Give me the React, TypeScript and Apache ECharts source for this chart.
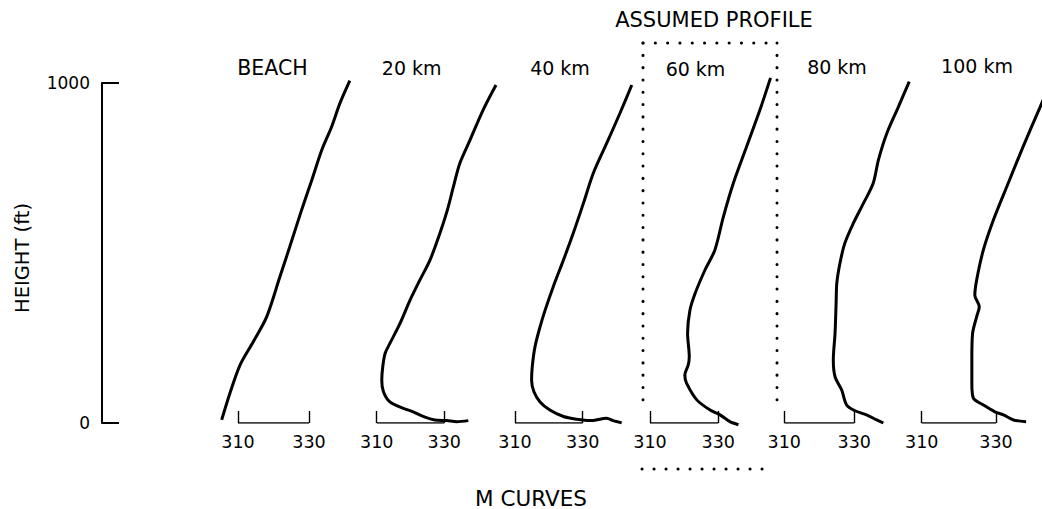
import React, { useEffect, useRef } from "react";
import * as echarts from "echarts";

// ---- data (M units vs height in ft) ----
const panelNames = ["BEACH", "20 km", "40 km", "60 km", "80 km", "100 km"];
const xTicks = [310, 330];
const yTicks = [0, 1000];

const beachM = [305.4, 307.7, 310.6, 314.3, 318.1, 321.8, 324.6, 327.9, 330.8, 333.6, 336.4, 338.7, 341.5];
const beachH = [9, 87, 171, 239, 313, 430, 519, 626, 715, 803, 872, 940, 1007];

const km20M = [345.3, 341.5, 337.6, 334.6, 332.7, 330.9, 328.7, 325.8, 322.8, 319.9, 316.9, 313.9, 312.5, 311.8, 311.5, 312.0, 313.9, 317.9, 320.8, 324.3, 327.2, 330.7, 333.7, 337.1];
const km20H = [994, 921, 832, 764, 695, 626, 558, 480, 421, 362, 293, 234, 205, 166, 126, 92, 62, 43, 33, 17, 9, 7, 4, 7];

const km40M = [344.5, 341.0, 337.1, 333.1, 330.2, 327.2, 324.3, 321.3, 318.9, 317.4, 315.9, 315.1, 314.9, 315.6, 317.4, 320.3, 324.3, 328.2, 332.2, 337.1, 339.0, 341.5];
const km40H = [994, 911, 823, 734, 646, 558, 479, 401, 332, 283, 224, 166, 126, 92, 62, 38, 19, 11, 7, 14, 7, 1];

const km60M = [345.3, 342.2, 338.3, 334.4, 331.5, 329.0, 326.1, 323.2, 321.7, 321.0, 321.5, 321.2, 320.2, 320.7, 323.7, 327.6, 330.5, 333.4, 335.9];
const km60H = [1015, 921, 813, 705, 607, 509, 450, 381, 332, 264, 195, 171, 141, 117, 68, 38, 24, 4, -5];

const km80M = [345.7, 342.6, 339.3, 336.9, 335.4, 332.6, 329.7, 327.3, 325.9, 325.0, 324.8, 324.5, 324.0, 324.5, 326.4, 327.8, 330.2, 333.5, 336.4, 338.3];
const km80H = [1004, 930, 852, 774, 705, 646, 587, 529, 470, 411, 352, 264, 185, 136, 97, 53, 36, 24, 9, 0];

const km100M = [344.6, 341.9, 337.3, 332.9, 329.3, 326.6, 324.8, 324.3, 325.5, 324.8, 323.7, 323.5, 323.5, 323.9, 326.6, 329.7, 332.0, 334.7, 338.1];
const km100H = [1000, 930, 813, 695, 597, 509, 421, 376, 342, 313, 264, 195, 117, 73, 53, 33, 24, 9, 4];

const profilesM = [beachM, km20M, km40M, km60M, km80M, km100M];
const profilesH = [beachH, km20H, km40H, km60H, km80H, km100H];

// ---- layout ----
const FONT = "DejaVu Sans";
const PLOT_TOP = 83;
const PLOT_H = 340;
const X_MIN = 300;
const X_MAX = 350;
// pixel position of the 310 tick and width of the 310–330 bracket, per panel
const bracketLeft = [238, 376.7, 515, 650, 784.3, 921.7];
const bracketWidth = [71, 67.6, 67.7, 68.3, 70, 74.3];
const titleX = [272.5, 411.7, 560, 695.5, 837, 977];
const titleY = [68, 68, 68, 69, 67, 66];

export default function App() {
  const ref = useRef<HTMLDivElement>(null);

  useEffect(() => {
    if (!ref.current) return;
    const chart = echarts.init(ref.current, undefined, { renderer: "svg" });

    const grids: any[] = [];
    const xAxes: any[] = [];
    const yAxes: any[] = [];
    const series: any[] = [];

    // left height axis
    grids.push({ left: 102, top: PLOT_TOP, width: 20, height: PLOT_H, outerBoundsMode: "none" });
    xAxes.push({ gridIndex: 0, type: "value", show: false, min: 0, max: 1 });
    yAxes.push({
      gridIndex: 0,
      type: "value",
      min: yTicks[0],
      max: yTicks[1],
      interval: yTicks[1] - yTicks[0],
      axisLine: { show: true, lineStyle: { color: "#000", width: 2 } },
      axisTick: { show: true, inside: true, length: 17, lineStyle: { color: "#000", width: 2 } },
      axisLabel: { color: "#000", fontFamily: FONT, fontSize: 17, margin: 12, formatter: (v: number) => String(v) },
      splitLine: { show: false },
    });

    panelNames.forEach((_, i) => {
      const gi = i + 1;
      const pxPerM = bracketWidth[i] / (xTicks[1] - xTicks[0]);
      grids.push({
        left: bracketLeft[i] - (xTicks[0] - X_MIN) * pxPerM,
        top: PLOT_TOP,
        width: (X_MAX - X_MIN) * pxPerM,
        height: PLOT_H,
        outerBoundsMode: "none",
      });
      xAxes.push({
        gridIndex: gi,
        type: "value",
        min: X_MIN,
        max: X_MAX,
        axisLine: { show: false },
        axisTick: {
          show: true,
          inside: true,
          length: 12,
          customValues: xTicks,
          lineStyle: { color: "#000", width: 1.4 },
        },
        axisLabel: {
          color: "#000",
          fontFamily: FONT,
          fontSize: 17.5,
          margin: 10,
          customValues: xTicks,
          formatter: (v: number) => String(v),
        },
        splitLine: { show: false },
      });
      yAxes.push({ gridIndex: gi, type: "value", min: 0, max: 1000, show: false });
      // scale bracket (310–330) along the zero line
      series.push({
        type: "line",
        xAxisIndex: gi,
        yAxisIndex: gi,
        data: xTicks.map((t) => [t, 0]),
        showSymbol: false,
        silent: true,
        lineStyle: { color: "#000", width: 1.4 },
        z: 3,
      });
      series.push({
        type: "line",
        name: panelNames[i],
        xAxisIndex: gi,
        yAxisIndex: gi,
        data: profilesM[i].map((m, k) => [m, profilesH[i][k]]),
        showSymbol: false,
        smooth: 0.3,
        clip: false,
        lineStyle: { color: "#000", width: 3 },
        z: 5,
      });
    });

    const dot = { stroke: "#000", lineWidth: 3, lineDash: [0.1, 12.2], lineCap: "round" };
    const textEl = (t: string, x: number, y: number, size: number) => ({
      type: "text",
      x,
      y,
      style: { text: t, fill: "#000", font: `${size}px "${FONT}"`, align: "center", verticalAlign: "middle" },
    });

    const graphic: any[] = [
      ...panelNames.map((n, i) => textEl(n, titleX[i], titleY[i], n === "BEACH" ? 20.5 : 19)),
      textEl("ASSUMED PROFILE", 714, 20, 21),
      textEl("M CURVES", 531, 498, 21.5),
      {
        type: "text",
        x: 22,
        y: 258,
        rotation: Math.PI / 2,
        style: { text: "HEIGHT (ft)", fill: "#000", font: `19.5px "${FONT}"`, align: "center", verticalAlign: "middle" },
      },
      { type: "line", shape: { x1: 643, y1: 43, x2: 777, y2: 43 }, style: dot },
      { type: "line", shape: { x1: 643, y1: 43, x2: 643, y2: 411 }, style: dot },
      { type: "line", shape: { x1: 777, y1: 43, x2: 777, y2: 411 }, style: dot },
      { type: "line", shape: { x1: 642, y1: 469, x2: 773, y2: 469 }, style: { ...dot, lineDash: [0.1, 11.9] } },
    ];

    chart.setOption({
      animation: false,
      backgroundColor: "#fff",
      grid: grids,
      xAxis: xAxes,
      yAxis: yAxes,
      series,
      graphic,
    });

    return () => chart.dispose();
  }, []);

  return (
    <div
      ref={ref}
      style={{ position: "absolute", left: 0, top: 0, width: 1042, height: 509, background: "#fff" }}
    />
  );
}
